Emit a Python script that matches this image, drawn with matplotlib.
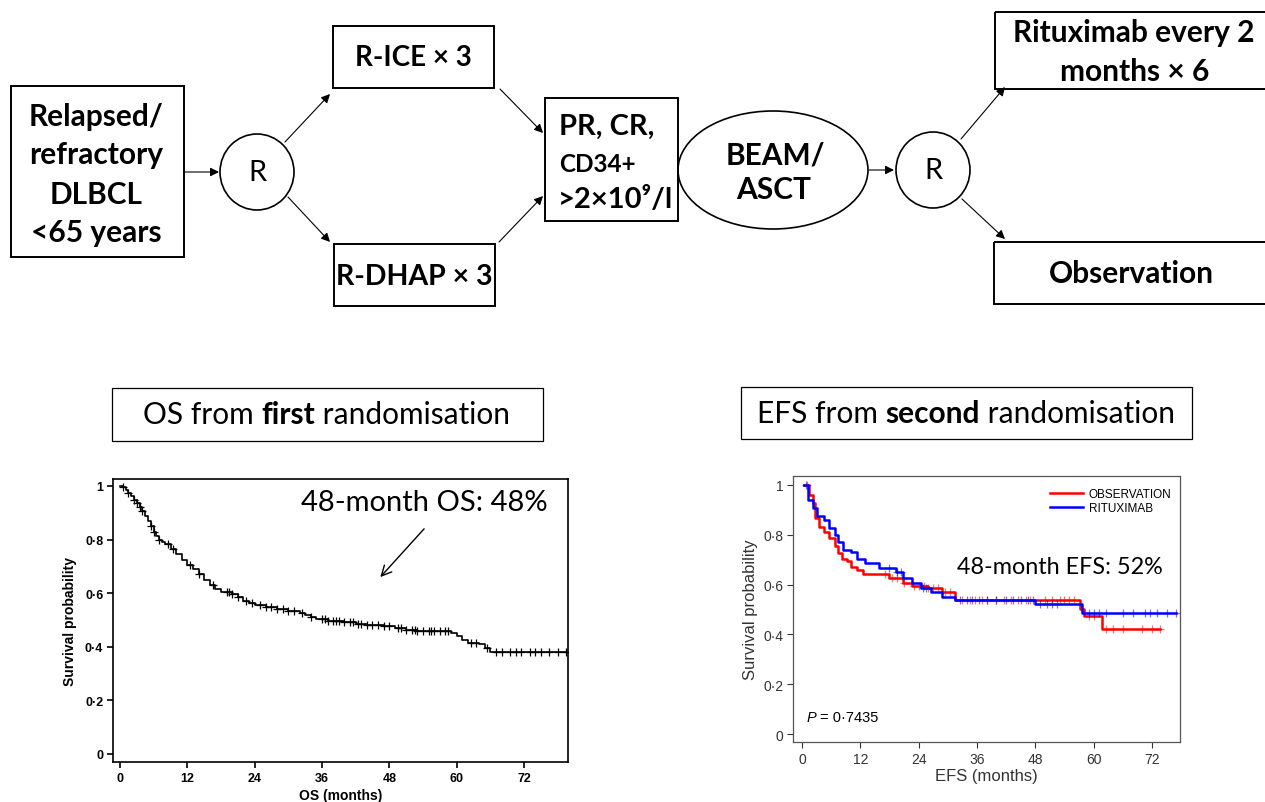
import numpy as np
import matplotlib
matplotlib.use("Agg")
import matplotlib.pyplot as plt
from matplotlib.patches import Rectangle, Ellipse

# ---- data ----
# overall survival from first randomisation (months, survival)
os_time = [0, 0.5, 1, 1.5, 2, 2.5, 3, 3.5, 4, 4.5, 5, 5.5, 6, 6.5, 7, 7.5, 8, 9, 10, 11,
           12, 13, 14, 15, 16, 17, 18, 20, 21, 22, 23, 24, 26, 28, 30, 32, 33, 34, 35, 37,
           40, 42, 44, 47, 49, 51, 53, 57, 59, 60, 61, 62, 64, 65, 66]
os_surv = [1.0, 0.995, 0.985, 0.975, 0.962, 0.948, 0.935, 0.92, 0.905, 0.888, 0.87, 0.85, 0.83,
           0.815, 0.80, 0.792, 0.782, 0.765, 0.745, 0.725, 0.705, 0.69, 0.672, 0.65, 0.632,
           0.615, 0.603, 0.597, 0.585, 0.572, 0.562, 0.555, 0.548, 0.54, 0.533, 0.526, 0.52,
           0.512, 0.503, 0.498, 0.493, 0.486, 0.48, 0.476, 0.471, 0.463, 0.46, 0.457, 0.452,
           0.44, 0.425, 0.415, 0.41, 0.395, 0.382]
os_censor = [0.5, 1.5, 2.5, 3, 3.5, 4, 5.5, 6, 7, 8.5, 9.5, 12.5, 14, 16.5, 19, 19.5, 20, 21,
             22.5, 23.5, 25, 26, 27, 28, 29, 30, 31, 32.5, 34, 36, 36.5, 37, 38, 38.5, 39, 40,
             41, 41.5, 42.5, 43, 44, 45, 46, 47, 48, 49.5, 50, 51, 52, 52.5, 53, 54, 55, 55.5,
             56, 57, 58, 58.5, 62.5, 63.5, 65.5, 67, 68, 69.5, 70.5, 71.5, 73, 74, 75, 76.5,
             78, 79.5]
os_end = 79.5

# event-free survival from second randomisation
obs_time = [0.5, 1.5, 2.2, 2.7, 3.5, 4.6, 5.6, 6.7, 7.4, 8.2, 9.3, 10, 11.4, 12.5, 18, 20.8,
            22.6, 25.9, 28.8, 31.5, 57.1, 58, 61.7]
obs_surv = [1.0, 0.96, 0.926, 0.866, 0.833, 0.813, 0.786, 0.753, 0.726, 0.703, 0.693, 0.672,
            0.66, 0.642, 0.626, 0.606, 0.595, 0.586, 0.57, 0.539, 0.503, 0.472, 0.422]
obs_censor = [1, 17, 18.5, 19.5, 21, 23, 24, 25, 26, 27, 28, 29.5, 30.5, 33, 34.5, 35.5, 37,
              38, 40, 41.5, 43, 44.5, 46, 47, 50, 51.5, 53, 54, 55, 56, 59, 60, 62.5, 64, 66,
              70, 72, 73.6]
obs_end = 73.6

rit_time = [0.5, 1.3, 2.2, 3.1, 4.6, 5.6, 6.7, 7.4, 8.5, 10, 11.4, 12.9, 15.8, 19.4, 20.8,
            22.6, 24.4, 26.6, 28.8, 31.5, 48, 57.7]
rit_surv = [1.0, 0.94, 0.906, 0.876, 0.86, 0.826, 0.80, 0.773, 0.739, 0.73, 0.702, 0.686,
            0.666, 0.652, 0.626, 0.606, 0.586, 0.572, 0.552, 0.539, 0.521, 0.485]
rit_censor = [0.8, 18, 19.5, 20.3, 24.8, 25.5, 32.5, 34, 35, 36.5, 38, 40, 42, 43.5, 45, 46.5,
              47.5, 49, 50.3, 51.5, 52.5, 59, 60, 61, 62.5, 66, 68, 70.5, 71.5, 73, 75, 76.9]
rit_end = 76.9

x_ticks = [0, 12, 24, 36, 48, 60, 72]
y_ticks = [0, 0.2, 0.4, 0.6, 0.8, 1]
y_tick_labels = ["0", "0·2", "0·4", "0·6", "0·8", "1"]

FLOW_FONT = ["Lato", "DejaVu Sans"]
PLOT_FONT = ["Liberation Sans", "DejaVu Sans"]

W, H = 1265, 803
fig = plt.figure(figsize=(W / 100, H / 100), dpi=100)


def px_rect(left, top, right, bottom):
    return [left / W, 1 - bottom / H, (right - left) / W, (bottom - top) / H]


# background axes in pixel units for the flow diagram
bg = fig.add_axes([0, 0, 1, 1])
bg.set_xlim(0, W)
bg.set_ylim(H, 0)
bg.axis("off")


def box(x0, y0, x1, y1, lw=1.4):
    bg.add_patch(Rectangle((x0, y0), x1 - x0, y1 - y0, fill=False, lw=lw, ec="black"))


def arrow(x0, y0, x1, y1):
    bg.annotate("", xy=(x1, y1), xytext=(x0, y0),
                arrowprops=dict(arrowstyle="-|>", color="black", lw=0.8,
                                mutation_scale=13, shrinkA=0, shrinkB=0))


def label(x, y, s, size=21.5, weight="bold", ha="center"):
    bg.text(x, y, s, ha=ha, va="center", fontsize=size, fontweight=weight, family=FLOW_FONT)


# first block
box(11, 87, 184, 258)
for yy, s in zip([117, 155, 195, 233], ["Relapsed/", "refractory", "DLBCL", "<65 years"]):
    label(96, yy, s)
arrow(184, 173, 219, 173)
bg.add_patch(Ellipse((257, 173), 74, 76, fill=False, lw=1.2))
label(257, 173, "R", size=21, weight="normal")
arrow(285, 143, 330, 95)
arrow(288, 198, 330, 243)

box(333, 27, 494, 89)
label(413, 58, "R-ICE × 3", size=20)
box(334, 245, 495, 307)
label(414, 277, "R-DHAP × 3", size=20.5)
arrow(500, 90, 543, 134)
arrow(499, 243, 543, 197)

box(545, 99, 678, 222)
label(559, 127, "PR, CR,", size=21, ha="left")
label(559, 165, "CD34+", size=17.5, ha="left")
label(558, 200, ">2×10⁹/l", size=21, ha="left")

bg.add_patch(Ellipse((773, 171), 190, 118, fill=False, lw=1.2))
label(775, 155, "BEAM/")
label(774, 190, "ASCT")
arrow(869, 171, 894, 171)
bg.add_patch(Ellipse((933, 171), 74, 76, fill=False, lw=1.2))
label(933, 171, "R", size=21, weight="normal")
arrow(961, 140, 1005, 88)
arrow(962, 200, 1005, 240)

box(995, 13, 1275, 90)
label(1134, 33, "Rituximab every 2")
label(1135, 72, "months × 6")
box(994, 243, 1275, 305)
label(1131, 274, "Observation")

# panel titles with one bold word
renderer = fig.canvas.get_renderer()


def pieces(x, y, parts, size=21.5):
    for s, w in parts:
        t = bg.text(x, y, s, ha="left", va="center", fontsize=size, fontweight=w,
                    family=FLOW_FONT)
        x = t.get_window_extent(renderer).x1


box(112, 389, 543, 442, lw=0.9)
pieces(143, 415, [("OS from ", "normal"), ("first", "bold"), (" randomisation", "normal")])
box(741, 388, 1192, 440, lw=0.9)
pieces(757, 414, [("EFS from ", "normal"), ("second", "bold"), (" randomisation", "normal")])


def km(ax, t, s, t_end, censor, color, lw, ms, alpha):
    ax.step(list(t) + [t_end], list(s) + [s[-1]], where="post", color=color, lw=lw)
    idx = np.searchsorted(t, censor, side="right") - 1
    ax.plot(censor, np.array(s)[idx], ls="none", marker="+", ms=ms, mew=0.9,
            color=color, alpha=alpha)


# ---- left panel: OS ----
ax1 = fig.add_axes(px_rect(113, 480, 568, 763))
km(ax1, os_time, os_surv, os_end, os_censor, "black", 1.2, 5.5, 1.0)
ax1.set_xlim(-1.25, 79.85)
ax1.set_ylim(-0.030, 1.026)
ax1.set_xticks(x_ticks)
ax1.set_yticks(y_ticks)
ax1.set_yticklabels(y_tick_labels)
for lab in ax1.get_xticklabels() + ax1.get_yticklabels():
    lab.set_fontweight("bold")
    lab.set_family(PLOT_FONT)
ax1.tick_params(labelsize=9, length=4, width=1.2, pad=3)
for sp in ax1.spines.values():
    sp.set_linewidth(1.2)
ax1.set_xlabel("OS (months)", fontsize=10, fontweight="bold", family=PLOT_FONT, labelpad=3)
ax1.set_ylabel("Survival probability", fontsize=10, fontweight="bold", family=PLOT_FONT,
               labelpad=6)
ax1.text(54.2, 0.94, "48-month OS: 48%", ha="center", va="center", fontsize=21,
         family=FLOW_FONT)
ax1.annotate("", xy=(46.4, 0.66), xytext=(54.2, 0.84),
             arrowprops=dict(arrowstyle="->", color="black", lw=1.0, mutation_scale=18,
                             shrinkA=0, shrinkB=0))

# ---- right panel: EFS ----
ax2 = fig.add_axes(px_rect(793, 477, 1180, 743))
km(ax2, obs_time, obs_surv, obs_end, obs_censor, "#ff0000", 1.8, 6, 0.55)
km(ax2, rit_time, rit_surv, rit_end, rit_censor, "#0000ff", 1.8, 6, 0.55)
ax2.set_xlim(-1.85, 77.76)
ax2.set_ylim(-0.032, 1.036)
ax2.set_xticks(x_ticks)
ax2.set_yticks(y_ticks)
ax2.set_yticklabels(y_tick_labels)
for lab in ax2.get_xticklabels() + ax2.get_yticklabels():
    lab.set_family(PLOT_FONT)
ax2.tick_params(labelsize=10, length=4, width=0.8, pad=3, colors="#333333")
for sp in ax2.spines.values():
    sp.set_color("#555555")
    sp.set_linewidth(0.9)
ax2.set_xlabel("EFS (months)", fontsize=12, family=PLOT_FONT, color="#333333", labelpad=2)
ax2.set_ylabel("Survival probability", fontsize=12, family=PLOT_FONT, color="#333333",
               labelpad=4)
ax2.plot([], [], color="#ff0000", lw=1.8, label="OBSERVATION")
ax2.plot([], [], color="#0000ff", lw=1.8, label="RITUXIMAB")
handles, names = ax2.get_legend_handles_labels()
ax2.legend(handles[-2:], names[-2:], loc="upper right", bbox_to_anchor=(1.0, 0.985),
           frameon=False, prop={"family": PLOT_FONT, "size": 8.5}, handlelength=2.8,
           handletextpad=0.5, labelspacing=0.15, borderaxespad=0.3)
ax2.text(1.0, 0.068, "P", style="italic", fontsize=10.5, family=PLOT_FONT, va="center")
ax2.text(3.8, 0.068, "= 0·7435", fontsize=10.5, family=PLOT_FONT, va="center")
ax2.text(53.1, 0.671, "48-month EFS: 52%", ha="center", va="center", fontsize=16.8,
         family=FLOW_FONT)

fig.savefig("out.png", dpi=100)
